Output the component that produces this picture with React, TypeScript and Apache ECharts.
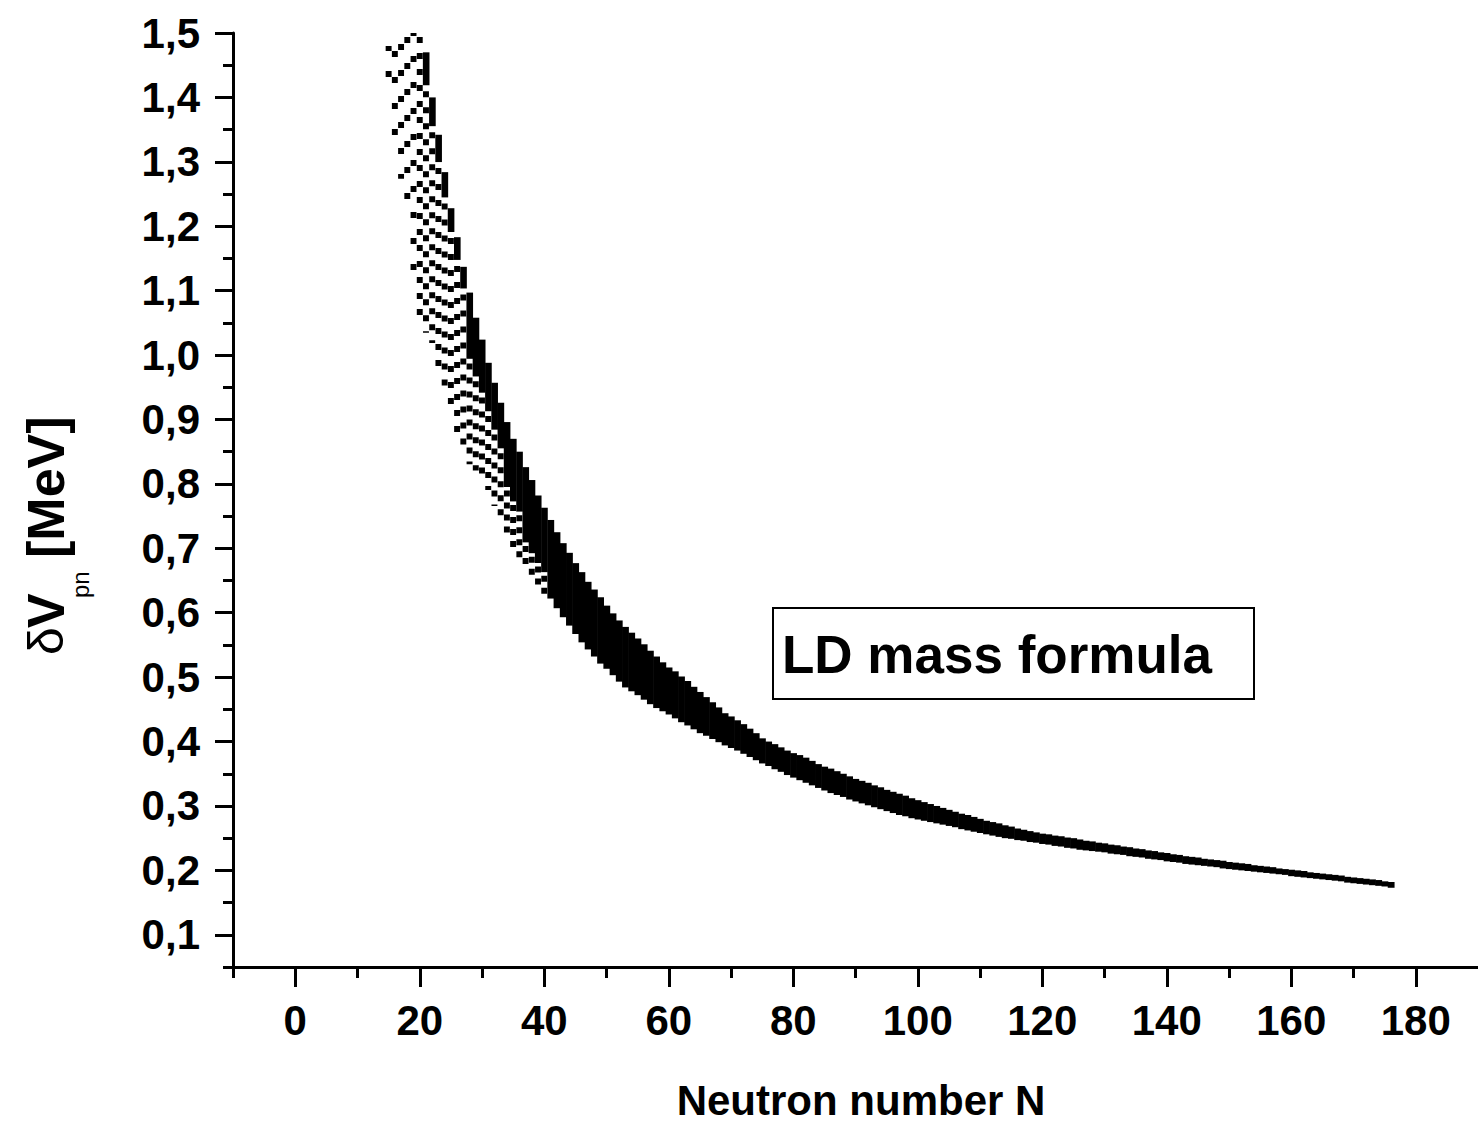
import React, { useEffect, useRef } from 'react';
import * as echarts from 'echarts';

// Neutron number of the first column; one column per integer N.
const FIRST_N = 15;

// Upper edge of each column of points (δVpn, MeV), N = 15 … 176
const UPPER: number[] = [
  1.48, 1.50, 1.50, 1.50, 1.50, 1.50, 1.47, 1.40, 1.342, 1.284, // 15-24
  1.228, 1.183, 1.137, 1.097, 1.058, 1.024, 0.988, 0.957, 0.926, 0.896, // 25-34
  0.870, 0.850, 0.826, 0.806, 0.782, 0.763, 0.744, 0.725, 0.708, 0.693, // 35-44
  0.677, 0.663, 0.648, 0.636, 0.624, 0.611, 0.599, 0.588, 0.578, 0.569, // 45-54
  0.560, 0.551, 0.541, 0.532, 0.523, 0.515, 0.509, 0.501, 0.494, 0.485, // 55-64
  0.477, 0.469, 0.461, 0.453, 0.444, 0.439, 0.433, 0.427, 0.420, 0.413, // 65-74
  0.405, 0.400, 0.396, 0.391, 0.386, 0.382, 0.379, 0.375, 0.370, 0.365, // 75-84
  0.361, 0.358, 0.354, 0.350, 0.346, 0.342, 0.339, 0.336, 0.332, 0.329, // 85-94
  0.325, 0.322, 0.319, 0.316, 0.312, 0.309, 0.306, 0.303, 0.300, 0.297, // 95-104
  0.294, 0.291, 0.288, 0.286, 0.283, 0.280, 0.277, 0.275, 0.273, 0.270, // 105-114
  0.268, 0.265, 0.263, 0.261, 0.259, 0.257, 0.256, 0.254, 0.253, 0.251, // 115-124
  0.250, 0.248, 0.246, 0.245, 0.243, 0.242, 0.240, 0.239, 0.237, 0.236, // 125-134
  0.234, 0.233, 0.231, 0.230, 0.228, 0.227, 0.225, 0.224, 0.222, 0.221, // 135-144
  0.220, 0.218, 0.217, 0.216, 0.215, 0.213, 0.212, 0.211, 0.210, 0.208, // 145-154
  0.207, 0.206, 0.205, 0.203, 0.202, 0.201, 0.200, 0.199, 0.197, 0.196, // 155-164
  0.195, 0.194, 0.193, 0.192, 0.190, 0.189, 0.188, 0.187, 0.186, 0.185, // 165-174
  0.183, 0.182, // 175-176
];

// Lower edge of each column of points (δVpn, MeV), N = 15 … 176
const LOWER: number[] = [
  1.418, 1.35, 1.283, 1.222, 1.135, 1.058, 1.044, 1.028, 0.989, 0.957, // 15-24
  0.920, 0.889, 0.857, 0.840, 0.830, 0.818, 0.800, 0.775, 0.749, 0.728, // 25-34
  0.708, 0.695, 0.680, 0.664, 0.651, 0.638, 0.622, 0.607, 0.593, 0.580, // 35-44
  0.567, 0.554, 0.543, 0.532, 0.521, 0.513, 0.503, 0.493, 0.484, 0.478, // 45-54
  0.472, 0.465, 0.458, 0.452, 0.447, 0.442, 0.436, 0.430, 0.425, 0.419, // 55-64
  0.413, 0.409, 0.404, 0.399, 0.394, 0.390, 0.386, 0.381, 0.376, 0.371, // 65-74
  0.366, 0.362, 0.357, 0.353, 0.348, 0.344, 0.340, 0.336, 0.332, 0.328, // 75-84
  0.324, 0.320, 0.317, 0.314, 0.310, 0.307, 0.304, 0.301, 0.298, 0.295, // 85-94
  0.292, 0.289, 0.286, 0.284, 0.281, 0.279, 0.277, 0.275, 0.273, 0.271, // 95-104
  0.269, 0.267, 0.264, 0.262, 0.260, 0.258, 0.256, 0.254, 0.252, 0.250, // 105-114
  0.249, 0.247, 0.246, 0.244, 0.243, 0.241, 0.240, 0.238, 0.237, 0.235, // 115-124
  0.234, 0.232, 0.231, 0.230, 0.229, 0.228, 0.226, 0.225, 0.224, 0.222, // 125-134
  0.221, 0.220, 0.218, 0.217, 0.216, 0.214, 0.213, 0.212, 0.210, 0.209, // 135-144
  0.208, 0.207, 0.206, 0.205, 0.203, 0.202, 0.201, 0.200, 0.199, 0.198, // 145-154
  0.197, 0.196, 0.195, 0.194, 0.193, 0.191, 0.190, 0.189, 0.188, 0.187, // 155-164
  0.186, 0.185, 0.184, 0.183, 0.181, 0.180, 0.179, 0.178, 0.177, 0.176, // 165-174
  0.175, 0.173, // 175-176
];

const X_MAJOR = [0, 20, 40, 60, 80, 100, 120, 140, 160, 180];
const X_MINOR = [-10, 10, 30, 50, 70, 90, 110, 130, 150, 170];
const Y_MAJOR = [0.1, 0.2, 0.3, 0.4, 0.5, 0.6, 0.7, 0.8, 0.9, 1.0, 1.1, 1.2, 1.3, 1.4, 1.5];
const Y_MINOR = [0.05, 0.15, 0.25, 0.35, 0.45, 0.55, 0.65, 0.75, 0.85, 0.95, 1.05, 1.15, 1.25, 1.35, 1.45];

const X_TITLE = 'Neutron number N';
const LEGEND_TEXT = 'LD mass formula';

const FONT = "'Liberation Sans', Arial, Helvetica, sans-serif";

const GRID = { left: 233, top: 33, width: 1253.6, height: 934 };

// Look of the sparse columns at small N: share of the column drawn solid
// (from its top), the rest drawn as separate dots with the given gap (px).
function solidShare(n: number): number {
  if (n <= 20) return 0;
  if (n <= 27) return 0.12;
  if (n <= 33) return 0.4;
  if (n <= 36) return 0.6;
  if (n <= 40) return 0.8;
  return 1;
}
function dotGap(n: number): number {
  if (n <= 19) return 20;
  if (n <= 27) return 10;
  if (n <= 33) return 8;
  return 6;
}

export default function App() {
  const ref = useRef<HTMLDivElement>(null);

  useEffect(() => {
    if (!ref.current) return;
    const chart = echarts.init(ref.current, undefined, { renderer: 'svg' });

    const data = UPPER.map((hi, i) => [FIRST_N + i, LOWER[i], hi]);

    const renderItem = (_params: any, api: any) => {
      const n = api.value(0);
      const lo = api.value(1);
      const hi = api.value(2);
      const top = api.coord([n, hi]);
      const bot = api.coord([n, lo]);
      const w = api.size([1, 0])[0];
      const h = Math.max(bot[1] - top[1], 5);
      const share = solidShare(n);
      if (share >= 1) {
        return {
          type: 'rect',
          shape: { x: top[0] - w / 2, y: top[1], width: w + 0.6, height: h },
          style: { fill: '#000' },
        };
      }
      const sh = share > 0 ? Math.max(h * share, 6) : 0;
      const gap = dotGap(n);
      const period = 6 + gap;
      const children: any[] = [];
      if (sh > 0) {
        children.push({
          type: 'rect',
          shape: { x: top[0] - w / 2, y: top[1], width: w + 0.4, height: sh },
          style: { fill: '#000' },
        });
      }
      children.push({
        type: 'line',
        shape: { x1: top[0], y1: top[1] + (sh > 0 ? sh + gap * 0.6 : 0), x2: bot[0], y2: bot[1] + 6 },
        style: {
          stroke: '#000',
          lineWidth: w - 0.3,
          lineDash: [6, gap],
          lineDashOffset: sh > 0 ? 0 : (n * 7) % period,
          lineCap: 'butt',
        },
      });
      return { type: 'group', children };
    };

    const axisLine = { show: true, onZero: false, lineStyle: { color: '#000', width: 3 } };
    const labelStyle = { color: '#000', fontFamily: FONT, fontWeight: 'bold' as const, fontSize: 42 };

    chart.setOption({
      animation: false,
      backgroundColor: '#fff',
      grid: [
        { ...GRID, containLabel: false },
        { ...GRID, containLabel: false },
      ],
      xAxis: [
        {
          type: 'value', gridIndex: 0, min: -10, max: 190, position: 'bottom',
          axisLine,
          axisTick: { show: true, length: 20, lineStyle: { color: '#000', width: 3 }, customValues: X_MAJOR },
          axisLabel: { ...labelStyle, margin: 32, customValues: X_MAJOR, formatter: (v: number) => String(v) },
          splitLine: { show: false },
        },
        {
          type: 'value', gridIndex: 1, min: -10, max: 190, position: 'bottom',
          axisLine: { show: false, onZero: false },
          axisTick: { show: true, length: 11, lineStyle: { color: '#000', width: 3 }, customValues: X_MINOR },
          axisLabel: { show: false },
          splitLine: { show: false },
        },
      ],
      yAxis: [
        {
          type: 'value', gridIndex: 0, min: 0.05, max: 1.5, position: 'left',
          axisLine,
          axisTick: { show: true, length: 18, lineStyle: { color: '#000', width: 3 }, customValues: Y_MAJOR },
          axisLabel: {
            ...labelStyle, margin: 33, customValues: Y_MAJOR,
            formatter: (v: number) => v.toFixed(1).replace('.', ','),
          },
          splitLine: { show: false },
        },
        {
          type: 'value', gridIndex: 1, min: 0.05, max: 1.5, position: 'left',
          axisLine: { show: false, onZero: false },
          axisTick: { show: true, length: 10, lineStyle: { color: '#000', width: 3 }, customValues: Y_MINOR },
          axisLabel: { show: false },
          splitLine: { show: false },
        },
      ],
      series: [
        {
          type: 'custom',
          xAxisIndex: 0,
          yAxisIndex: 0,
          clip: false,
          renderItem,
          data,
          silent: true,
        },
      ],
      graphic: [
        {
          type: 'rect',
          shape: { x: 773, y: 608, width: 481, height: 91 },
          style: { fill: 'none', stroke: '#000', lineWidth: 2 },
        },
        {
          type: 'text',
          x: 782, y: 654,
          style: {
            text: LEGEND_TEXT, fill: '#000', font: `bold 53px ${FONT}`,
            align: 'left', verticalAlign: 'middle',
          },
        },
        {
          type: 'text',
          x: 861, y: 1100,
          style: {
            text: X_TITLE, fill: '#000', font: `bold 42px ${FONT}`,
            align: 'center', verticalAlign: 'middle',
          },
        },
        {
          type: 'text',
          x: 46, y: 655, rotation: Math.PI / 2,
          style: { text: 'δ', fill: '#000', font: `50px ${FONT}`, align: 'left', verticalAlign: 'middle' },
        },
        {
          type: 'text',
          x: 46, y: 628, rotation: Math.PI / 2,
          style: { text: 'V', fill: '#000', font: `bold 52px ${FONT}`, align: 'left', verticalAlign: 'middle' },
        },
        {
          type: 'text',
          x: 80, y: 598, rotation: Math.PI / 2,
          style: { text: 'pn', fill: '#000', font: `24px ${FONT}`, align: 'left', verticalAlign: 'middle' },
        },
        {
          type: 'text',
          x: 46, y: 558, rotation: Math.PI / 2,
          style: { text: '[MeV]', fill: '#000', font: `bold 52px ${FONT}`, align: 'left', verticalAlign: 'middle' },
        },
      ],
    });

    return () => chart.dispose();
  }, []);

  return (
    <div
      ref={ref}
      style={{ position: 'absolute', left: 0, top: 0, width: 1478, height: 1122, background: '#fff' }}
    />
  );
}
